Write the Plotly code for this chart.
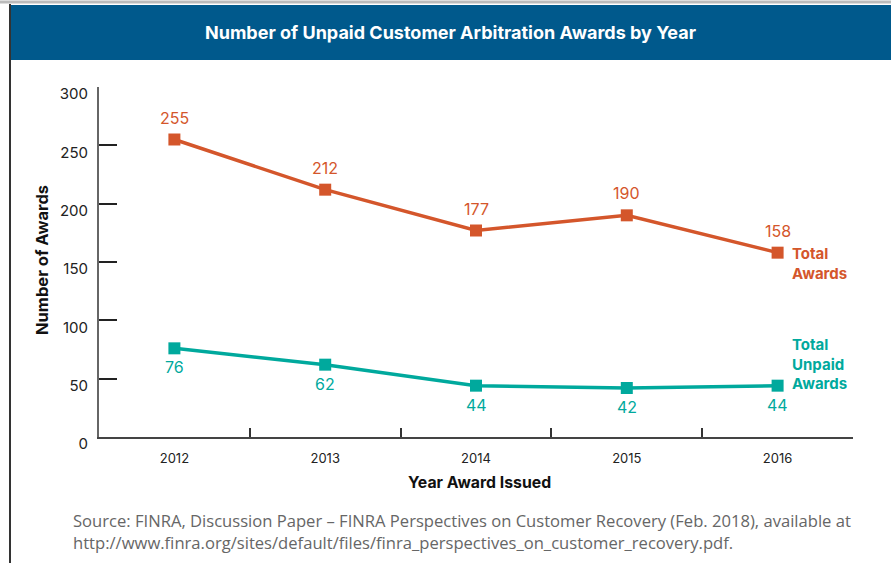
import plotly.graph_objects as go

years = ["2012", "2013", "2014", "2015", "2016"]
total_awards = [255, 212, 177, 190, 158]
unpaid_awards = [76, 62, 44, 42, 44]
y_ticks = [0, 50, 100, 150, 200, 250, 300]

ORANGE = "#D4562B"
TEAL = "#00A99D"
BLUE = "#00598C"
FONT = "Inter"

W, H = 891, 563
L, R, T, B = 99, 853, 87, 437


def px(x):
    return (x - L) / (R - L)


def py(y):
    return (B - y) / (B - T)


fig = go.Figure()
fig.add_trace(go.Scatter(
    x=years, y=total_awards, mode="lines+markers",
    line=dict(color=ORANGE, width=3.5),
    marker=dict(symbol="square", size=12, color=ORANGE),
    cliponaxis=False, showlegend=False,
))
fig.add_trace(go.Scatter(
    x=years, y=unpaid_awards, mode="lines+markers",
    line=dict(color=TEAL, width=3.5),
    marker=dict(symbol="square", size=12, color=TEAL),
    cliponaxis=False, showlegend=False,
))

shapes = [
    dict(type="line", xref="paper", yref="paper", x0=px(0), x1=px(W), y0=py(2), y1=py(2),
         line=dict(color="#BBBBBB", width=3)),
    dict(type="rect", xref="paper", yref="paper", x0=px(10), x1=px(W + 5), y0=py(5), y1=py(60),
         fillcolor=BLUE, line=dict(width=0), layer="below"),
    dict(type="line", xref="paper", yref="paper", x0=px(10), x1=px(10), y0=py(4), y1=py(H + 5),
         line=dict(color="#333333", width=2)),
]

annotations = []
for i, v in enumerate(total_awards):
    annotations.append(dict(x=i, y=v, xref="x", yref="y", text=str(v), showarrow=False,
                            yshift=22, xanchor="center", yanchor="middle",
                            font=dict(family=FONT, size=16, color=ORANGE)))
for i, v in enumerate(unpaid_awards):
    annotations.append(dict(x=i, y=v, xref="x", yref="y", text=str(v), showarrow=False,
                            yshift=-19, xanchor="center", yanchor="middle",
                            font=dict(family=FONT, size=16, color=TEAL)))

annotations += [
    dict(text="<b>Total<br>Awards</b>", xref="paper", yref="paper", x=px(790), y=py(263),
         xanchor="left", yanchor="middle", align="left", showarrow=False,
         font=dict(family=FONT, size=15, color=ORANGE)),
    dict(text="<b>Total<br>Unpaid<br>Awards</b>", xref="paper", yref="paper", x=px(790), y=py(364),
         xanchor="left", yanchor="middle", align="left", showarrow=False,
         font=dict(family=FONT, size=15, color=TEAL)),
    dict(text="<b>Number of Unpaid Customer Arbitration Awards by Year</b>", xref="paper", yref="paper",
         x=px(450), y=py(33), xanchor="center", yanchor="middle", showarrow=False,
         font=dict(family=FONT, size=18, color="white")),
    dict(text="<b>Number of Awards</b>", xref="paper", yref="paper", x=px(42), y=py(260),
         xanchor="center", yanchor="middle", textangle=-90, showarrow=False,
         font=dict(family=FONT, size=16.5, color="#111111")),
    dict(text="<b>Year Award Issued</b>", xref="paper", yref="paper", x=px(479), y=py(482),
         xanchor="center", yanchor="middle", showarrow=False,
         font=dict(family=FONT, size=15.8, color="#111111")),
    dict(text="Source: FINRA, Discussion Paper – FINRA Perspectives on Customer Recovery (Feb. 2018), available at<br>"
              "http://www.finra.org/sites/default/files/finra_perspectives_on_customer_recovery.pdf.",
         xref="paper", yref="paper", x=px(71), y=py(531.5), xanchor="left", yanchor="middle", align="left",
         showarrow=False, font=dict(family="Open Sans", size=16.6, color="#666666")),
]

fig.update_layout(
    width=W, height=H,
    margin=dict(l=L, r=W - R, t=T, b=H - B),
    paper_bgcolor="white", plot_bgcolor="white",
    shapes=shapes, annotations=annotations,
    xaxis=dict(type="category", range=[-0.5, 4.5], tickson="boundaries", ticks="inside", ticklen=9,
               tickcolor="#333333", tickwidth=1.5, showline=True, linecolor="#444444", linewidth=1.5,
               showgrid=False, zeroline=False, ticklabelstandoff=9,
               tickfont=dict(family=FONT, size=13, color="#222222")),
    yaxis=dict(range=[0, 300], tickvals=y_ticks, ticks="inside", ticklen=18, tickcolor="#222222",
               tickwidth=1.5, showline=True, linecolor="#666666", linewidth=2, showgrid=False,
               zeroline=False, ticklabelstandoff=6, ticklabelshift=7,
               tickfont=dict(family=FONT, size=15, color="#222222")),
)

fig.write_html("out.html", config={"displayModeBar": False},
               post_script="document.body.style.margin='0px';document.body.style.padding='0px';")
